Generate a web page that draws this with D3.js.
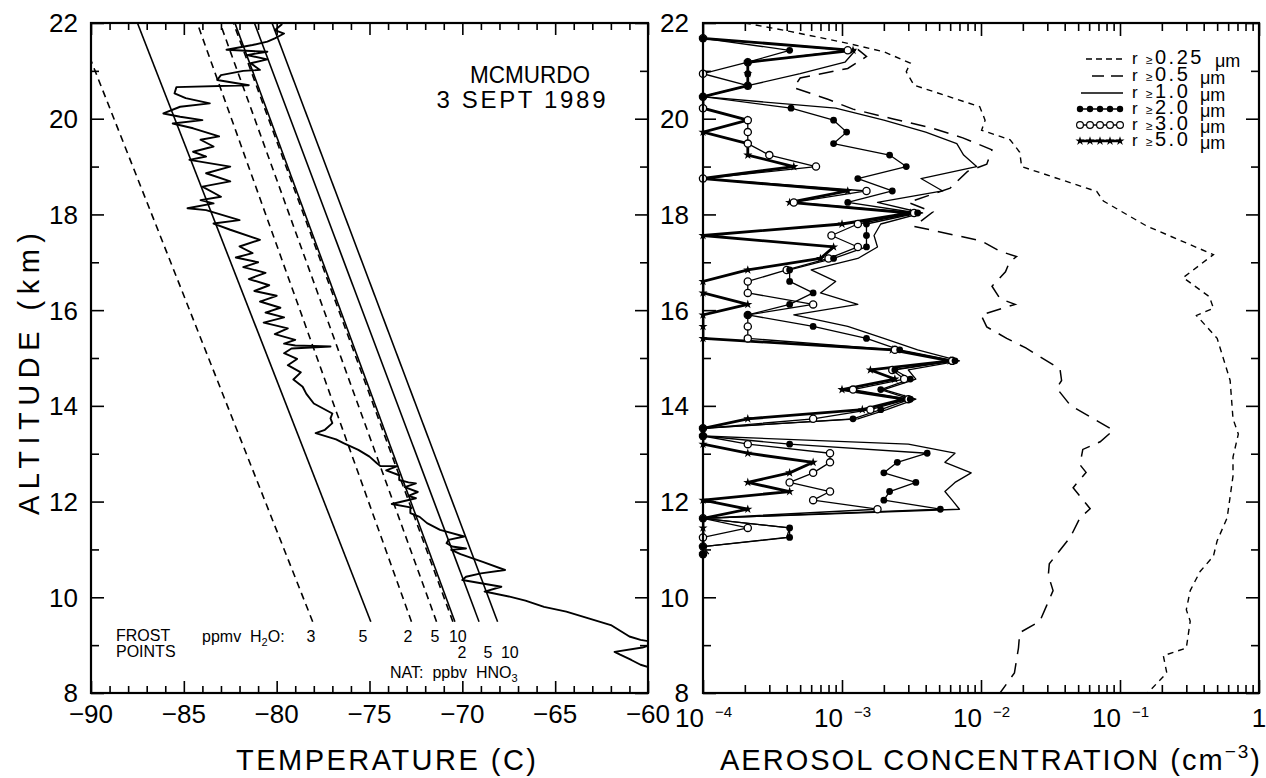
<!DOCTYPE html>
<html><head><meta charset="utf-8">
<script src="https://cdn.jsdelivr.net/npm/d3@7"></script>
<style>
body{margin:0;background:#fff}
svg{display:block}
text{font-family:"Liberation Sans",Arial,sans-serif;fill:#000}
</style></head>
<body><svg id="c" width="1266" height="778"></svg>
<script>
// ---------------- DATA ----------------
const tempDomain = [-90, -60];
const altDomain = [8, 22];
const concDomain = [1e-4, 1];

const tempTicksMajor = [-90, -85, -80, -75, -70, -65, -60];
const altTicksMajor = [8, 10, 12, 14, 16, 18, 20, 22];
const concTicksMajor = [1e-4, 1e-3, 1e-2, 1e-1, 1];
const concTickExp = ["\u22124", "\u22123", "\u22122", "\u22121", ""];

// Temperature profile (altitude km, temperature C)
const tempAlt = [21.98,21.85,21.78,21.68,21.61,21.54,21.44,21.40,21.33,21.24,21.16,21.02,21.00,20.91,20.81,20.70,20.66,20.53,20.43,20.32,20.25,20.11,20.04,19.97,19.90,19.80,19.63,19.56,19.42,19.31,19.21,19.14,19.00,18.86,18.69,18.58,18.37,18.30,18.23,18.13,18.09,17.88,17.81,17.68,17.47,17.33,17.19,17.10,17.00,16.90,16.78,16.65,16.52,16.40,16.30,16.18,16.05,15.95,15.85,15.74,15.62,15.50,15.38,15.30,15.26,15.24,15.20,15.10,14.98,14.85,14.70,14.55,14.40,14.25,14.05,13.84,13.74,13.64,13.50,13.43,13.30,13.22,13.08,12.94,12.80,12.74,12.74,12.65,12.55,12.45,12.40,12.38,12.30,12.20,12.12,12.07,11.95,11.88,11.76,11.68,11.55,11.41,11.27,11.20,11.13,11.06,11.02,10.99,10.90,10.74,10.57,10.50,10.43,10.36,10.22,10.12,10.01,9.93,9.80,9.70,9.56,9.42,9.30,9.18,9.11,9.05,8.95,8.86,8.80,8.69,8.59,8.50];
const tempC = [-79.7,-80.1,-79.6,-80.1,-80.5,-81.3,-82.7,-80.5,-81.6,-80.5,-81.4,-80.9,-81.8,-83.0,-83.2,-81.5,-85.4,-85.5,-84.9,-83.6,-85.2,-86.1,-85.2,-84.0,-85.6,-84.5,-83.1,-84.1,-83.4,-84.5,-83.8,-84.7,-82.5,-83.8,-82.5,-84.0,-83.0,-84.1,-83.4,-84.8,-83.8,-82.0,-83.4,-82.5,-80.9,-82.0,-81.3,-82.2,-81.0,-81.8,-80.6,-81.5,-80.4,-81.2,-80.0,-80.9,-79.8,-80.6,-79.6,-80.7,-79.4,-80.1,-79.0,-79.6,-79.0,-77.1,-79.2,-79.6,-78.9,-79.4,-78.7,-79.1,-78.6,-78.4,-78.0,-77.0,-77.1,-77.0,-77.4,-77.9,-76.8,-76.4,-75.6,-75.0,-74.6,-74.4,-73.5,-74.1,-73.4,-73.4,-72.9,-72.5,-73.1,-72.4,-72.9,-72.5,-73.8,-72.8,-72.8,-72.3,-71.9,-71.2,-69.9,-70.75,-70.85,-70.55,-69.8,-70.6,-70.1,-68.9,-67.7,-69.0,-69.8,-70.0,-67.9,-68.8,-67.4,-66.6,-65.6,-64.4,-63.2,-62.0,-61.5,-61.0,-60.4,-59.5,-60.3,-61.8,-61.5,-60.9,-60.4,-59.6];

// Frost point / NAT guide lines (temperature at bottom and top altitude)
const guideDashed = [true, false, true, true, true, false, false, false];
const guideBottomT = [-78.06, -74.93, -72.74, -71.39, -70.51, -70.40, -69.10, -68.10];
const guideTopT = [-90.8, -87.5, -84.28, -83.05, -82.33, -82.25, -81.2, -80.25];
const guideBottomAlt = 9.49;
const guideTopAlt = 22;

const h2oLabels = ["3", "5", "2", "5", "10"];
const h2oLabelT = [-78.15, -75.35, -72.93, -71.48, -70.24];
const hno3Labels = ["2", "5", "10"];
const hno3LabelT = [-70.02, -68.62, -67.44];

// Aerosol: marker series on a common altitude grid
const gridAlt = [21.68,21.43,21.18,20.94,20.69,20.46,20.22,19.97,19.72,19.48,19.24,19.00,18.75,18.49,18.25,18.03,17.80,17.56,17.32,17.08,16.84,16.60,16.36,16.12,15.90,15.66,15.41,15.17,14.94,14.75,14.56,14.34,14.14,13.92,13.73,13.53,13.37,13.20,13.01,12.82,12.60,12.40,12.21,12.03,11.84,11.65,11.45,11.25,11.06,10.90];
const concR1 = [1e-4,1.25e-3,1.05e-3,5e-4,2.1e-4,1e-4,9e-4,2e-3,4e-3,6.7e-3,7.5e-3,9.3e-3,3.7e-3,5.3e-3,1.8e-3,3.8e-3,1.9e-3,1.7e-3,1.8e-3,1.3e-3,6e-4,9e-4,7e-4,1.3e-3,4.5e-4,1.1e-3,2e-3,3.5e-3,7e-3,3e-3,3.4e-3,2e-3,3.4e-3,2.1e-3,1.3e-3,1e-4,1e-4,3e-3,6.5e-3,5.5e-3,8.5e-3,6.5e-3,5.5e-3,6.2e-3,7e-3,1e-4,4.2e-4,4e-4,1e-4,1.1e-4];
const concR2 = [1e-4,4.2e-4,2.1e-4,2.1e-4,2.1e-4,1e-4,4.3e-4,8.7e-4,1.08e-3,8.7e-4,2.2e-3,2.9e-3,1.3e-3,2.3e-3,1.1e-3,3.5e-3,1.5e-3,1.5e-3,1.5e-3,8.7e-4,4.2e-4,4.2e-4,6.2e-4,4.2e-4,2.1e-4,6.2e-4,1.5e-3,2.6e-3,6.5e-3,2.4e-3,3.1e-3,1.9e-3,3.1e-3,1.9e-3,1.2e-3,1e-4,1e-4,4.2e-4,4.1e-3,2.5e-3,2e-3,3.4e-3,2.2e-3,2e-3,5.1e-3,1e-4,4.2e-4,4.2e-4,1e-4,1e-4];
const concR3 = [1e-4,1.1e-3,2.1e-4,1e-4,2.1e-4,1e-4,1e-4,2.1e-4,2.1e-4,2.1e-4,3e-4,6.5e-4,1e-4,1.5e-3,4.5e-4,3.3e-3,1.3e-3,8.4e-4,1.3e-3,8e-4,4e-4,2.1e-4,2.1e-4,6.2e-4,2.1e-4,2.1e-4,2.1e-4,2.4e-3,6.2e-3,2.3e-3,2.8e-3,1.2e-3,3e-3,1.6e-3,6.2e-4,1e-4,1e-4,2.1e-4,8.2e-4,8.2e-4,6.2e-4,4.2e-4,8.2e-4,6.2e-4,1.8e-3,1e-4,2.1e-4,1e-4,1e-4,1e-4];
const concR5 = [1e-4,1.2e-3,2.1e-4,2.1e-4,2.1e-4,1e-4,1e-4,2.1e-4,1e-4,2.1e-4,2.1e-4,4.5e-4,1e-4,1.1e-3,4.2e-4,3.1e-3,1e-3,1e-4,8.7e-4,7e-4,2.1e-4,1e-4,1e-4,2.1e-4,1e-4,1e-4,1e-4,2.3e-3,6e-3,1.6e-3,2.4e-3,1e-3,2.8e-3,1.4e-3,2.1e-4,1e-4,1e-4,1e-4,2.1e-4,6.2e-4,4.2e-4,2.1e-4,4.2e-4,1e-4,2.1e-4,1e-4,1e-4,1e-4,1e-4,1e-4];

// Aerosol: r >= 0.25 um and r >= 0.5 um profiles
const alt025 = [22.00,21.82,21.58,21.40,21.16,20.98,20.70,20.25,19.97,19.76,19.56,19.30,19.00,18.48,18.28,17.76,17.16,16.68,16.28,16.04,15.89,15.41,14.53,13.73,13.41,12.93,12.53,11.66,11.18,10.86,10.54,10.14,9.74,9.50,8.94,8.78,8.42,8.00];
const conc025 = [2.0e-4,4.3e-4,1.08e-3,2.0e-3,3.1e-3,2.9e-3,3.3e-3,9.8e-3,1.07e-2,1.01e-2,1.62e-2,1.9e-2,1.96e-2,6.8e-2,7.6e-2,0.155,0.47,0.285,0.44,0.47,0.355,0.50,0.62,0.65,0.71,0.65,0.65,0.59,0.50,0.47,0.377,0.32,0.30,0.32,0.30,0.205,0.217,0.158];
const alt05 = [21.45,21.30,21.05,20.85,20.65,20.40,20.20,20.00,19.80,19.60,19.35,19.05,18.90,18.55,18.25,18.05,17.75,17.45,17.23,17.12,17.00,16.80,16.50,16.24,16.12,15.90,15.65,15.41,15.21,14.77,14.53,14.37,14.01,13.65,13.49,13.25,13.09,12.77,12.61,12.29,11.85,11.66,11.26,10.70,10.46,10.14,9.82,9.50,9.26,8.94,8.42,8.00];
const conc05 = [1.3e-3,1.5e-3,1.1e-3,5.0e-4,4.5e-4,8.0e-4,1.2e-3,2.3e-3,4.5e-3,7.4e-3,1.2e-2,1.1e-2,8.0e-3,6.0e-3,3.0e-3,4.5e-3,3.3e-3,1.0e-2,1.37e-2,1.8e-2,1.6e-2,1.5e-2,1.2e-2,1.37e-2,1.76e-2,1.0e-2,1.1e-2,1.53e-2,2.1e-2,3.7e-2,3.8e-2,3.5e-2,4.4e-2,7.2e-2,8.95e-2,7.2e-2,5.4e-2,5.15e-2,5.7e-2,4.6e-2,6.1e-2,5.15e-2,4.4e-2,3.1e-2,3.05e-2,3.3e-2,2.96e-2,2.65e-2,1.9e-2,1.86e-2,1.74e-2,1.37e-2];

const legendLabels = ["0.25", "0.5", "1.0", "2.0", "3.0", "5.0"];

// ---------------- DRAWING ----------------
const svg = d3.select("#c");
const LP = {x0: 91, x1: 648}, RP = {x0: 703, x1: 1259}, Y0 = 23, Y1 = 693;

const xT = d3.scaleLinear().domain(tempDomain).range([LP.x0, LP.x1]);
const yA = d3.scaleLinear().domain(altDomain).range([Y1, Y0]);
const xC = d3.scaleLog().domain(concDomain).range([RP.x0, RP.x1]);

const defs = svg.append("defs");
defs.append("clipPath").attr("id", "clipL").append("rect")
  .attr("x", LP.x0).attr("y", Y0).attr("width", LP.x1 - LP.x0).attr("height", Y1 - Y0);
defs.append("clipPath").attr("id", "clipR").append("rect")
  .attr("x", RP.x0).attr("y", Y0).attr("width", RP.x1 - RP.x0).attr("height", Y1 - Y0);

function tickAxis(axisFn, scale, values, size, transform) {
  const g = svg.append("g").attr("transform", transform)
    .call(axisFn(scale).tickValues(values).tickSize(size).tickSizeOuter(0).tickFormat(""));
  g.select(".domain").remove();
  g.selectAll("line").attr("stroke", "#000").attr("stroke-width", 1.6);
}

// left panel ticks
const tempMinor = d3.range(-89, -60, 1).filter(v => v % 5 !== 0);
const altMinor = [9, 11, 13, 15, 17, 19, 21];
tickAxis(d3.axisBottom, xT, tempTicksMajor, -12, `translate(0,${Y1})`);
tickAxis(d3.axisBottom, xT, tempMinor, -7, `translate(0,${Y1})`);
tickAxis(d3.axisTop, xT, tempTicksMajor, -12, `translate(0,${Y0})`);
tickAxis(d3.axisTop, xT, tempMinor, -7, `translate(0,${Y0})`);
tickAxis(d3.axisLeft, yA, altTicksMajor, -13, `translate(${LP.x0},0)`);
tickAxis(d3.axisLeft, yA, altMinor, -8, `translate(${LP.x0},0)`);
tickAxis(d3.axisRight, yA, altTicksMajor, -13, `translate(${LP.x1},0)`);
tickAxis(d3.axisRight, yA, altMinor, -8, `translate(${LP.x1},0)`);

// right panel ticks
const concMinor = [];
[-4, -3, -2, -1].forEach(k => { for (let m = 2; m <= 9; m++) concMinor.push(m * Math.pow(10, k)); });
tickAxis(d3.axisBottom, xC, concTicksMajor, -13, `translate(0,${Y1})`);
tickAxis(d3.axisBottom, xC, concMinor, -8, `translate(0,${Y1})`);
tickAxis(d3.axisTop, xC, concTicksMajor, -13, `translate(0,${Y0})`);
tickAxis(d3.axisTop, xC, concMinor, -8, `translate(0,${Y0})`);
tickAxis(d3.axisLeft, yA, altTicksMajor, -13, `translate(${RP.x0},0)`);
tickAxis(d3.axisLeft, yA, altMinor, -8, `translate(${RP.x0},0)`);
tickAxis(d3.axisRight, yA, altTicksMajor, -13, `translate(${RP.x1},0)`);
tickAxis(d3.axisRight, yA, altMinor, -8, `translate(${RP.x1},0)`);

// tick labels
const tickFont = 26;
tempTicksMajor.forEach(v => {
  svg.append("text").attr("x", xT(v)).attr("y", 723).attr("text-anchor", "middle")
    .attr("font-size", tickFont).text("\u2212" + Math.abs(v));
});
altTicksMajor.forEach(v => {
  svg.append("text").attr("x", 78).attr("y", yA(v)).attr("dy", "0.36em").attr("text-anchor", "end")
    .attr("font-size", tickFont).text(v);
  svg.append("text").attr("x", 689).attr("y", yA(v)).attr("dy", "0.36em").attr("text-anchor", "end")
    .attr("font-size", tickFont).text(v);
});
concTicksMajor.forEach((v, i) => {
  if (concTickExp[i] === "") {
    svg.append("text").attr("x", xC(v)).attr("y", 727).attr("text-anchor", "middle")
      .attr("font-size", tickFont).text("1");
  } else {
    svg.append("text").attr("x", xC(v) + 1).attr("y", 727).attr("text-anchor", "end")
      .attr("font-size", tickFont).text("10");
    svg.append("text").attr("x", xC(v) + 12).attr("y", 717).attr("text-anchor", "start")
      .attr("font-size", 15).text(concTickExp[i]);
  }
});

// axis titles
svg.append("text").attr("transform", "translate(39,374) rotate(-90)").attr("text-anchor", "middle")
  .attr("font-size", 29).attr("textLength", 282).attr("lengthAdjust", "spacing")
  .text("ALTITUDE (km)");
svg.append("text").attr("x", 236).attr("y", 770).attr("font-size", 29)
  .attr("textLength", 300).attr("lengthAdjust", "spacing")
  .text("TEMPERATURE (C)");
const at = svg.append("text").attr("x", 720).attr("y", 770).attr("font-size", 29)
  .attr("textLength", 540).attr("lengthAdjust", "spacing");
at.append("tspan").text("AEROSOL CONCENTRATION (cm");
at.append("tspan").attr("font-size", 19).attr("dy", -12).text("\u22123");
at.append("tspan").attr("dy", 12).text(")");

// ---------- left panel content ----------
const gl = svg.append("g").attr("clip-path", "url(#clipL)");
guideBottomT.forEach((tb, i) => {
  gl.append("line")
    .attr("x1", xT(tb)).attr("y1", yA(guideBottomAlt))
    .attr("x2", xT(guideTopT[i])).attr("y2", yA(guideTopAlt))
    .attr("stroke", "#000").attr("stroke-width", 1.6)
    .attr("stroke-dasharray", guideDashed[i] ? "7,5" : null);
});
const tLine = d3.line().x(i => xT(tempC[i])).y(i => yA(tempAlt[i]));
gl.append("path").attr("d", tLine(d3.range(tempAlt.length)))
  .attr("fill", "none").attr("stroke", "#000").attr("stroke-width", 1.9).attr("stroke-linejoin", "round");

// annotations left
const annF = 16;
svg.append("text").attr("x", 116).attr("y", 641).attr("font-size", annF).text("FROST");
svg.append("text").attr("x", 116).attr("y", 657).attr("font-size", annF).text("POINTS");
const ph = svg.append("text").attr("x", 202).attr("y", 642).attr("font-size", annF).attr("xml:space", "preserve");
ph.append("tspan").text("ppmv  H");
ph.append("tspan").attr("font-size", 11).attr("dy", 4).text("2");
ph.append("tspan").attr("dy", -4).text("O:");
h2oLabels.forEach((s, i) => {
  svg.append("text").attr("x", xT(h2oLabelT[i])).attr("y", 642).attr("text-anchor", "middle")
    .attr("font-size", annF).text(s);
});
hno3Labels.forEach((s, i) => {
  svg.append("text").attr("x", xT(hno3LabelT[i])).attr("y", 658).attr("text-anchor", "middle")
    .attr("font-size", annF).text(s);
});
const nt = svg.append("text").attr("x", 390).attr("y", 678).attr("font-size", annF).attr("xml:space", "preserve");
nt.append("tspan").text("NAT:  ppbv  HNO");
nt.append("tspan").attr("font-size", 11).attr("dy", 4).text("3");

svg.append("text").attr("x", 530).attr("y", 83).attr("text-anchor", "middle").attr("font-size", 24)
  .attr("textLength", 120).attr("lengthAdjust", "spacingAndGlyphs").text("MCMURDO");
svg.append("text").attr("x", 521).attr("y", 108).attr("text-anchor", "middle").attr("font-size", 24)
  .attr("textLength", 169).attr("lengthAdjust", "spacing").text("3 SEPT 1989");

// ---------- right panel content ----------
const gr = svg.append("g").attr("clip-path", "url(#clipR)");
function profLine(alts, vals) {
  return d3.line().x(i => xC(vals[i])).y(i => yA(alts[i]))(d3.range(alts.length));
}
gr.append("path").attr("d", profLine(alt025, conc025)).attr("fill", "none").attr("stroke", "#000")
  .attr("stroke-width", 1.4).attr("stroke-dasharray", "6,5");
gr.append("path").attr("d", profLine(alt05, conc05)).attr("fill", "none").attr("stroke", "#000")
  .attr("stroke-width", 1.5).attr("stroke-dasharray", "15,9");
gr.append("path").attr("d", profLine(gridAlt, concR1)).attr("fill", "none").attr("stroke", "#000")
  .attr("stroke-width", 1.3).attr("stroke-linejoin", "round");
gr.append("path").attr("d", profLine(gridAlt, concR2)).attr("fill", "none").attr("stroke", "#000")
  .attr("stroke-width", 1.3).attr("stroke-linejoin", "round");
gr.append("path").attr("d", profLine(gridAlt, concR3)).attr("fill", "none").attr("stroke", "#000")
  .attr("stroke-width", 1.3).attr("stroke-linejoin", "round");
gr.append("path").attr("d", profLine(gridAlt, concR5)).attr("fill", "none").attr("stroke", "#000")
  .attr("stroke-width", 2.8).attr("stroke-linejoin", "round");

const star = d3.symbol().type(d3.symbolStar).size(26);
gridAlt.forEach((a, i) => {
  svg.append("path").attr("d", star()).attr("transform", `translate(${xC(concR5[i])},${yA(a)})`).attr("fill", "#000");
});
gridAlt.forEach((a, i) => {
  svg.append("circle").attr("cx", xC(concR3[i])).attr("cy", yA(a)).attr("r", 3.6)
    .attr("fill", "#fff").attr("stroke", "#000").attr("stroke-width", 1.3);
});
gridAlt.forEach((a, i) => {
  svg.append("circle").attr("cx", xC(concR2[i])).attr("cy", yA(a)).attr("r", 3.4).attr("fill", "#000");
});

// ---------- legend ----------
const legY = [58, 75, 92, 108, 124, 140];
const lg = svg.append("g");
lg.append("line").attr("x1", 1086).attr("x2", 1123).attr("y1", legY[0] + 1).attr("y2", legY[0] + 1)
  .attr("stroke", "#000").attr("stroke-width", 1.4).attr("stroke-dasharray", "6,4");
lg.append("line").attr("x1", 1092).attr("x2", 1123).attr("y1", legY[1] + 1).attr("y2", legY[1] + 1)
  .attr("stroke", "#000").attr("stroke-width", 1.5).attr("stroke-dasharray", "12,7");
lg.append("line").attr("x1", 1081).attr("x2", 1123).attr("y1", legY[2] + 1).attr("y2", legY[2] + 1)
  .attr("stroke", "#000").attr("stroke-width", 1.5);
[3, 4, 5].forEach(r => {
  lg.append("line").attr("x1", 1079).attr("x2", 1121).attr("y1", legY[r] + 1).attr("y2", legY[r] + 1)
    .attr("stroke", "#000").attr("stroke-width", r === 5 ? 2.6 : 1.3);
  for (let k = 0; k < 5; k++) {
    const cx = 1080 + k * 10, cy = legY[r] + 1;
    if (r === 3) lg.append("circle").attr("cx", cx).attr("cy", cy).attr("r", 3.2).attr("fill", "#000");
    else if (r === 4) lg.append("circle").attr("cx", cx).attr("cy", cy).attr("r", 3.4).attr("fill", "#fff").attr("stroke", "#000").attr("stroke-width", 1.2);
    else lg.append("path").attr("d", star()).attr("transform", `translate(${cx},${cy})`).attr("fill", "#000");
  }
});
legendLabels.forEach((s, r) => {
  const y = legY[r] + 6;
  const t = lg.append("text").attr("x", 1132).attr("y", y).attr("font-size", 17).attr("xml:space", "preserve");
  t.append("tspan").text("r");
  t.append("tspan").attr("x", 1146).attr("font-size", 12).text("\u2265");
  t.append("tspan").attr("x", 1155).attr("font-size", 20).attr("letter-spacing", 2.5).text(s);
  t.append("tspan").attr("x", r === 0 ? 1215 : 1200).attr("dy", 3).attr("font-size", 18).text("\u03bcm");
});

// frames
[LP, RP].forEach(p => {
  svg.append("rect").attr("x", p.x0).attr("y", Y0).attr("width", p.x1 - p.x0).attr("height", Y1 - Y0)
    .attr("fill", "none").attr("stroke", "#000").attr("stroke-width", 2.2);
});
</script></body></html>
